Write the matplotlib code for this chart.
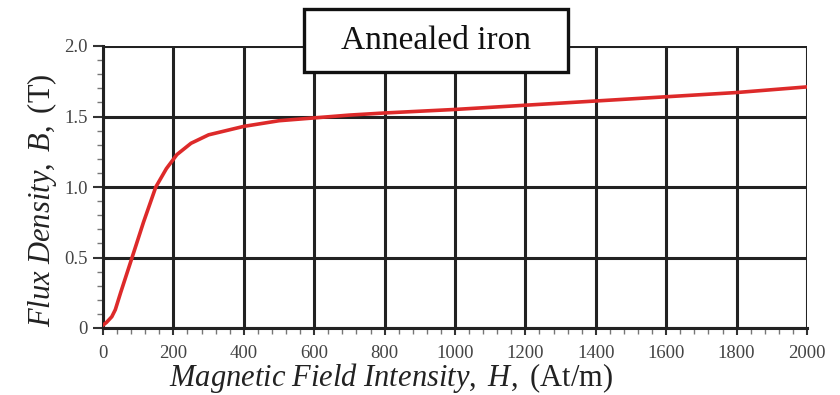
import matplotlib
matplotlib.use("Agg")
import matplotlib.pyplot as plt
from matplotlib.ticker import MultipleLocator
from matplotlib.patches import Rectangle

H = [0, 10, 25, 35, 50, 80, 115, 150, 180, 210, 250, 300, 350, 400, 500, 600, 700, 800, 1000, 1200, 1400, 1600, 1800, 2000]
B = [0.02, 0.04, 0.08, 0.13, 0.25, 0.48, 0.75, 1.0, 1.13, 1.23, 1.31, 1.37, 1.40, 1.43, 1.47, 1.49, 1.51, 1.525, 1.55, 1.58, 1.61, 1.64, 1.67, 1.71]
xticks = [0, 200, 400, 600, 800, 1000, 1200, 1400, 1600, 1800, 2000]
yticks = [0, 0.5, 1.0, 1.5, 2.0]
yticklabels = ["0", "0.5", "1.0", "1.5", "2.0"]
title = "Annealed iron"

plt.rcParams['font.family'] = 'Liberation Serif'
plt.rcParams['mathtext.fontset'] = 'custom'
plt.rcParams['mathtext.rm'] = 'Liberation Serif'
plt.rcParams['mathtext.it'] = 'Liberation Serif:italic'

W, Hh = 840, 395
fig = plt.figure(figsize=(8.4, 3.95), dpi=100)
ax = fig.add_axes([103/W, 1-328/Hh, (807-103)/W, (328-46)/Hh])

ax.plot(H, B, color='#dd2a2a', lw=2.6, zorder=3, solid_capstyle='round')
ax.set_xlim(0, 2000)
ax.set_ylim(0, 2.0)
ax.set_xticks(xticks)
ax.set_yticks(yticks)
ax.set_yticklabels(yticklabels)
ax.xaxis.set_minor_locator(MultipleLocator(40))
ax.yaxis.set_minor_locator(MultipleLocator(0.1))
ax.grid(True, which='major', color='#222222', lw=2.2)
ax.tick_params(which='major', direction='out', width=1.5, color='#333333',
               labelsize=13.5, labelcolor='#444444')
ax.tick_params(which='minor', direction='out', length=4, width=1, color='#777777')
ax.tick_params(axis='x', which='major', length=5, pad=7)
ax.tick_params(axis='y', which='major', length=7, pad=4)
for s in ['top', 'right']:
    ax.spines[s].set_visible(False)
for s in ['left', 'bottom']:
    ax.spines[s].set_color('#222222')
    ax.spines[s].set_linewidth(2.2)

ax.set_xlabel(r"$\mathit{Magnetic\ Field\ Intensity,\ H,}\ \mathrm{(At/m)}$", fontsize=22, color='#222222')
ax.set_ylabel(r"$\mathit{Flux\ Density,\ B,}\ \mathrm{(T)}$", fontsize=22, color='#222222')
ax.xaxis.set_label_coords((391-103)/704, -(378-328)/282)
ax.yaxis.set_label_coords(-(103-42)/704, (328-200)/282)
ax.xaxis.label.set_va('center')
ax.yaxis.label.set_va('center')

fig.patches.append(Rectangle((304/W, 1-72/Hh), (568-304)/W, (72-9)/Hh, transform=fig.transFigure,
                             facecolor='white', edgecolor='#111111', lw=2.4, zorder=10))
fig.text(436/W, 1-41/Hh, title, ha='center', va='center', fontsize=24, color='#111111', zorder=11)

fig.savefig("out.png", dpi=100)
